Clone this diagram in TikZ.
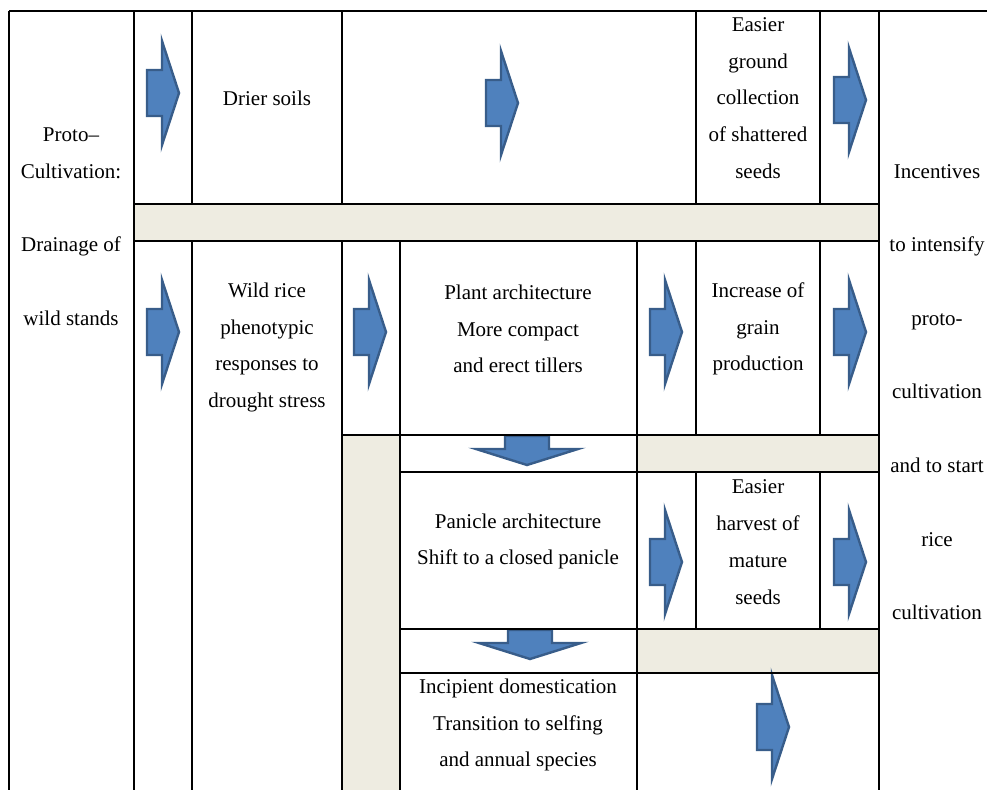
\documentclass[tikz,border=0pt]{standalone}
\usepackage{fontspec}
\setmainfont{Liberation Serif}
\newfontfamily\cellfont{Liberation Serif}
\usetikzlibrary{positioning}
\definecolor{tan}{HTML}{EEECE1}
\definecolor{arrowblue}{HTML}{4F81BD}
\definecolor{arrowrim}{HTML}{385D8A}

\begin{document}
\begin{tikzpicture}[x=1pt,y=-1pt,
  rule/.style={line width=1.6pt},
  band/.style={fill=tan},
  blockarrow/.style={fill=arrowblue,draw=arrowrim,line width=2.4pt},
  cell/.style={align=center,inner sep=0pt,font=\cellfont\fontsize{21}{36.8}\selectfont}]
\useasboundingbox (0,0) rectangle (987,790);
% shaded bands
\fill[band] (134,204) rectangle (879,241);
\fill[band] (342,435) rectangle (400,790);
\fill[band] (637,435) rectangle (879,472);
\fill[band] (637,629) rectangle (879,673);
% block arrows
\foreach \cx/\cy in {163/93,502/103,850/100,163/332,370/332,666/332,850/332,666/562,850/562,773/727}
  \draw[blockarrow] (\cx,\cy) ++(-16,-23)--++(15,0)--++(0,-29)--++(17,52)
    --++(-17,52)--++(0,-29)--++(-15,0)--cycle;
\foreach \cx/\cy in {527/436,530/630}
  \draw[blockarrow] (\cx,\cy) ++(-22,0)--++(0,13)--++(-29,0)--++(51,16)
    --++(51,-16)--++(-29,0)--++(0,-13)--cycle;
% rules
\draw[rule] (9,11)--(987,11);
\draw[rule] (134,204)--(879,204) (134,241)--(879,241);
\draw[rule] (342,435)--(879,435) (400,472)--(879,472);
\draw[rule] (400,629)--(879,629) (400,673)--(879,673);
\draw[rule] (9,11)--(9,790) (134,11)--(134,790) (879,11)--(879,790);
\draw[rule] (192,11)--(192,204) (192,241)--(192,790);
\draw[rule] (342,11)--(342,204) (342,241)--(342,790);
\draw[rule] (400,241)--(400,790) (637,241)--(637,790);
\foreach \x in {696,820}
  \draw[rule] (\x,11)--(\x,204) (\x,241)--(\x,435) (\x,472)--(\x,629);
% texts
\node[cell] (proto) at (71,226.5) {Proto–\\Cultivation:\\[36.8pt]Drainage of\\[36.8pt]wild stands};
\node[cell] (drier) at (267,98.5) {Drier soils};
\node[cell] (ground) at (758,98) {Easier\\ground\\collection\\of shattered\\seeds};
\node[cell] (wild) at (267,347.5) {Wild rice\\phenotypic\\responses to\\drought stress};
\node[cell] (plant) at (518,329) {Plant architecture\\More compact\\and erect tillers};
\node[cell] (grain) at (758,329) {Increase of\\grain\\production};
\node[cell] (panicle) at (518,541.5) {Panicle architecture\\Shift to a closed panicle};
\node[cell] (harvest) at (758,542) {Easier\\harvest of\\mature\\seeds};
\node[cell] (incipient) at (518,725) {Incipient domestication\\Transition to selfing\\and annual species};
\node[cell] (incent) at (937,392) {Incentives\\[36.8pt]to intensify\\[36.8pt]proto-\\[36.8pt]cultivation\\[36.8pt]and to start\\[36.8pt]rice\\[36.8pt]cultivation};
\end{tikzpicture}
\end{document}
